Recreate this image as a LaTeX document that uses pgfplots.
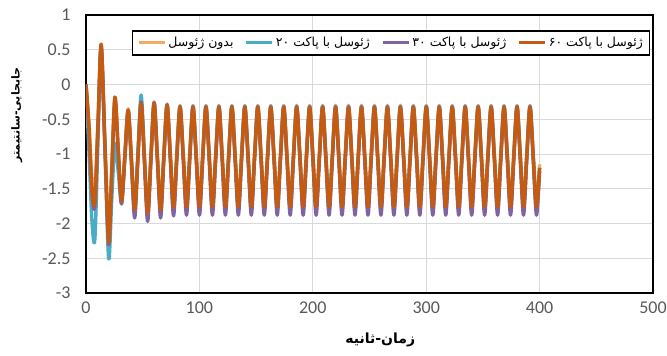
\documentclass[border=0pt]{standalone}
\usepackage{fontspec}
\setmainfont{Carlito}
\newfontfamily\arabicfont[Script=Arabic]{DejaVu Sans}
\TeXXeTstate=1
\usepackage{pgfplots}
\usepackage{pgfplotstable}
\pgfplotsset{compat=1.18}
\definecolor{cA}{RGB}{244,170,100}
\definecolor{cB}{RGB}{75,172,198}
\definecolor{cC}{RGB}{128,100,162}
\definecolor{cD}{RGB}{197,90,17}
\definecolor{tickgray}{RGB}{89,89,89}
\definecolor{gridgray}{RGB}{217,217,217}

\pgfplotstableread{
t a b c d
0 0 0 0 0
2.6 -0.55 -0.95 -0.65 -0.6
5.2 -1.35 -1.95 -1.55 -1.5
7.8 -1.55 -2.23 -1.75 -1.7
10.6 -0.5 -0.8 -0.6 -0.55
13.4 0.5 0.55 0.56 0.58
16.7 -0.85 -0.95 -0.9 -0.85
20.0 -2.05 -2.51 -2.3 -2.27
22.7 -1.2 -1.65 -1.3 -1.25
25.5 -0.2 -0.85 -0.2 -0.18
28.4 -0.95 -1.25 -0.95 -0.93
31.3 -1.65 -1.7 -1.72 -1.68
34.3 -1.0 -1.02 -1.05 -1.02
37.2 -0.35 -0.38 -0.37 -0.37
40.06 -1.05 -1.10 -1.14 -1.09
42.92 -1.75 -1.85 -1.92 -1.80
45.77 -1.00 -0.98 -1.09 -1.05
48.63 -0.25 -0.15 -0.25 -0.27
51.49 -1.03 -1.02 -1.12 -1.07
54.35 -1.80 -1.88 -1.97 -1.85
57.20 -1.03 -1.07 -1.12 -1.07
60.06 -0.25 -0.26 -0.26 -0.27
62.92 -1.00 -1.05 -1.09 -1.04
65.78 -1.75 -1.84 -1.92 -1.80
68.63 -1.00 -1.05 -1.09 -1.04
71.49 -0.28 -0.29 -0.29 -0.30
74.35 -0.99 -1.04 -1.08 -1.03
77.21 -1.71 -1.81 -1.89 -1.77
80.06 -0.99 -1.04 -1.09 -1.04
82.92 -0.30 -0.31 -0.32 -0.33
85.78 -0.99 -1.04 -1.09 -1.04
88.64 -1.70 -1.80 -1.88 -1.76
91.49 -0.99 -1.04 -1.09 -1.04
94.35 -0.30 -0.31 -0.32 -0.33
97.21 -0.99 -1.04 -1.09 -1.04
100.07 -1.70 -1.80 -1.88 -1.76
102.92 -0.99 -1.04 -1.09 -1.04
105.78 -0.30 -0.31 -0.32 -0.33
108.64 -0.99 -1.04 -1.09 -1.04
111.50 -1.70 -1.80 -1.88 -1.76
114.35 -0.99 -1.04 -1.09 -1.04
117.21 -0.30 -0.31 -0.32 -0.33
120.07 -0.99 -1.04 -1.09 -1.04
122.93 -1.70 -1.80 -1.88 -1.76
125.78 -0.99 -1.04 -1.09 -1.04
128.64 -0.30 -0.31 -0.32 -0.33
131.50 -0.99 -1.04 -1.09 -1.04
134.36 -1.70 -1.80 -1.88 -1.76
137.21 -0.99 -1.04 -1.09 -1.04
140.07 -0.30 -0.31 -0.32 -0.33
142.93 -0.99 -1.04 -1.09 -1.04
145.79 -1.70 -1.80 -1.88 -1.76
148.64 -0.99 -1.04 -1.09 -1.04
151.50 -0.30 -0.31 -0.32 -0.33
154.36 -0.99 -1.04 -1.09 -1.04
157.22 -1.70 -1.80 -1.88 -1.76
160.07 -0.99 -1.04 -1.09 -1.04
162.93 -0.30 -0.31 -0.32 -0.33
165.79 -0.99 -1.04 -1.09 -1.04
168.65 -1.70 -1.80 -1.88 -1.76
171.50 -0.99 -1.04 -1.09 -1.04
174.36 -0.30 -0.31 -0.32 -0.33
177.22 -0.99 -1.04 -1.09 -1.04
180.08 -1.70 -1.80 -1.88 -1.76
182.93 -0.99 -1.04 -1.09 -1.04
185.79 -0.30 -0.31 -0.32 -0.33
188.65 -0.99 -1.04 -1.09 -1.04
191.51 -1.70 -1.80 -1.88 -1.76
194.36 -0.99 -1.04 -1.09 -1.04
197.22 -0.30 -0.31 -0.32 -0.33
200.08 -0.99 -1.04 -1.09 -1.04
202.94 -1.70 -1.80 -1.88 -1.76
205.79 -0.99 -1.04 -1.09 -1.04
208.65 -0.30 -0.31 -0.32 -0.33
211.51 -0.99 -1.04 -1.09 -1.04
214.37 -1.70 -1.80 -1.88 -1.76
217.22 -0.99 -1.04 -1.09 -1.04
220.08 -0.30 -0.31 -0.32 -0.33
222.94 -0.99 -1.04 -1.09 -1.04
225.80 -1.70 -1.80 -1.88 -1.76
228.65 -0.99 -1.04 -1.09 -1.04
231.51 -0.30 -0.31 -0.32 -0.33
234.37 -0.99 -1.04 -1.09 -1.04
237.23 -1.70 -1.80 -1.88 -1.76
240.08 -0.99 -1.04 -1.09 -1.04
242.94 -0.30 -0.31 -0.32 -0.33
245.80 -0.99 -1.04 -1.09 -1.04
248.66 -1.70 -1.80 -1.88 -1.76
251.51 -0.99 -1.04 -1.09 -1.04
254.37 -0.30 -0.31 -0.32 -0.33
257.23 -0.99 -1.04 -1.09 -1.04
260.09 -1.70 -1.80 -1.88 -1.76
262.94 -0.99 -1.04 -1.09 -1.04
265.80 -0.30 -0.31 -0.32 -0.33
268.66 -0.99 -1.04 -1.09 -1.04
271.52 -1.70 -1.80 -1.88 -1.76
274.37 -0.99 -1.04 -1.09 -1.04
277.23 -0.30 -0.31 -0.32 -0.33
280.09 -0.99 -1.04 -1.09 -1.04
282.95 -1.70 -1.80 -1.88 -1.76
285.80 -0.99 -1.04 -1.09 -1.04
288.66 -0.30 -0.31 -0.32 -0.33
291.52 -0.99 -1.04 -1.09 -1.04
294.38 -1.70 -1.80 -1.88 -1.76
297.23 -0.99 -1.04 -1.09 -1.04
300.09 -0.30 -0.31 -0.32 -0.33
302.95 -0.99 -1.04 -1.09 -1.04
305.81 -1.70 -1.80 -1.88 -1.76
308.66 -0.99 -1.04 -1.09 -1.04
311.52 -0.30 -0.31 -0.32 -0.33
314.38 -0.99 -1.04 -1.09 -1.04
317.24 -1.70 -1.80 -1.88 -1.76
320.09 -0.99 -1.04 -1.09 -1.04
322.95 -0.30 -0.31 -0.32 -0.33
325.81 -0.99 -1.04 -1.09 -1.04
328.67 -1.70 -1.80 -1.88 -1.76
331.52 -0.99 -1.04 -1.09 -1.04
334.38 -0.30 -0.31 -0.32 -0.33
337.24 -0.99 -1.04 -1.09 -1.04
340.10 -1.70 -1.80 -1.88 -1.76
342.95 -0.99 -1.04 -1.09 -1.04
345.81 -0.30 -0.31 -0.32 -0.33
348.67 -0.99 -1.04 -1.09 -1.04
351.53 -1.70 -1.80 -1.88 -1.76
354.38 -0.99 -1.04 -1.09 -1.04
357.24 -0.30 -0.31 -0.32 -0.33
360.10 -0.99 -1.04 -1.09 -1.04
362.96 -1.70 -1.80 -1.88 -1.76
365.81 -0.99 -1.04 -1.09 -1.04
368.67 -0.30 -0.31 -0.32 -0.33
371.53 -0.99 -1.04 -1.09 -1.04
374.39 -1.70 -1.80 -1.88 -1.76
377.24 -0.99 -1.04 -1.09 -1.04
380.10 -0.30 -0.31 -0.32 -0.33
382.96 -0.99 -1.04 -1.09 -1.04
385.82 -1.70 -1.80 -1.88 -1.76
388.67 -0.99 -1.04 -1.09 -1.04
391.53 -0.30 -0.31 -0.32 -0.33
394.39 -0.99 -1.04 -1.09 -1.04
397.25 -1.70 -1.80 -1.88 -1.76
400.00 -1.15 -1.20 -1.25 -1.20
}\data

\begin{document}
\begin{tikzpicture}
\path[use as bounding box] (-86pt,-63pt) rectangle (581pt,293pt);
\begin{axis}[
  scale only axis, width=567pt, height=278pt,
  xmin=0, xmax=500, ymin=-3, ymax=1,
  xtick={0,100,200,300,400,500},
  ytick={-3,-2.5,-2,-1.5,-1,-0.5,0,0.5,1},
  grid=major,
  major grid style={gridgray, line width=0.8pt},
  tick style={draw=none},
  axis line style={black, line width=2.5pt},
  ticklabel style={font=\fontsize{18}{18}\selectfont, text=tickgray},
  /pgf/number format/assume math mode=true,
  xticklabel style={yshift=-5pt},
  yticklabel style={xshift=-12pt},
  xlabel={\arabicfont\bfseries\beginR زمان-ثانیه\endR},
  ylabel={\arabicfont\bfseries\beginR جابجایی-سانتیمتر\endR},
  xlabel style={at={(axis description cs:0.519,-0.17)}, anchor=center, font=\fontsize{14}{14}\selectfont},
  ylabel style={at={(axis description cs:-0.122,0.64)}, anchor=center, font=\fontsize{11}{11}\selectfont},
  legend columns=4,
  legend style={at={(axis description cs:0.995,0.946)}, anchor=north east,
    draw=black, line width=1.5pt, fill=white,
    font=\fontsize{12.5}{15}\selectfont, inner sep=4.5pt,
    /tikz/every even column/.append style={column sep=9pt}},
  legend image code/.code={\draw[#1] (0pt,0pt) -- (26pt,0pt);},
  every axis plot/.append style={line width=3.4pt, smooth, line join=round},
]
\addplot[cA] table[x=t, y=a] {\data};
\addlegendentry{\arabicfont\beginR بدون ژئوسل\endR}
\addplot[cB] table[x=t, y=b] {\data};
\addlegendentry{\arabicfont\beginR ژئوسل با پاکت \beginL۲۰\endL\endR}
\addplot[cC] table[x=t, y=c] {\data};
\addlegendentry{\arabicfont\beginR ژئوسل با پاکت \beginL۳۰\endL\endR}
\addplot[cD] table[x=t, y=d] {\data};
\addlegendentry{\arabicfont\beginR ژئوسل با پاکت \beginL۶۰\endL\endR}
\end{axis}
\end{tikzpicture}
\end{document}
